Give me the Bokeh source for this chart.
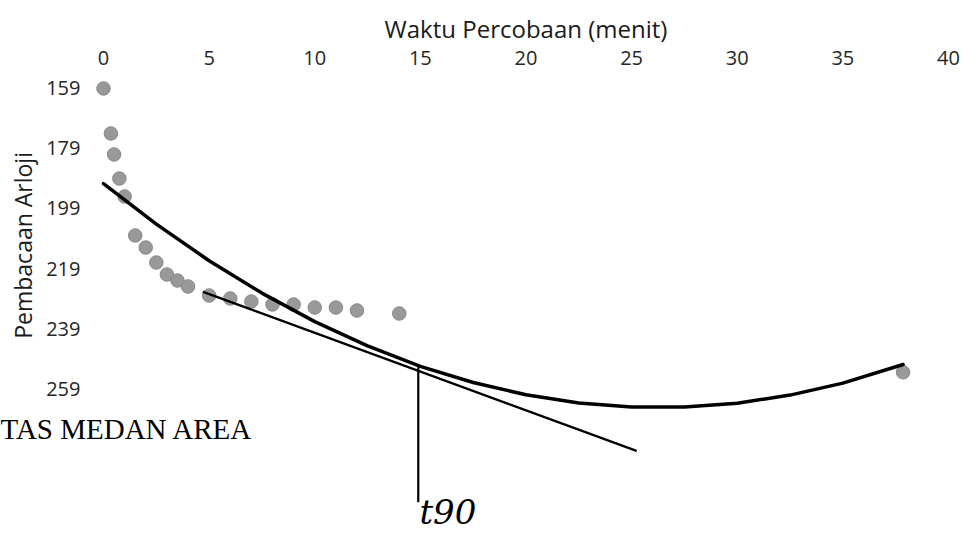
import math
from bokeh.plotting import figure
from bokeh.models import Range1d, FixedTicker, Label, LinearAxis
from bokeh.embed import file_html
from bokeh.resources import INLINE

# ---- data ----
time_min = [0, 0.35, 0.5, 0.75, 1, 1.5, 2, 2.5, 3, 3.5, 4, 5, 6, 7, 8, 9, 10, 11, 12, 14, 37.85]
reading = [159, 174, 181, 189, 195, 208, 212, 217, 221, 223, 225, 228, 229, 230, 231, 231, 232, 232, 233, 234, 253.6]

# hand-drawn smooth curve
curve_x = [0, 2.5, 5, 7.5, 10, 12.5, 15, 17.5, 20, 22.5, 25, 27.5, 30, 32.5, 35, 37.85]
curve_y = [190.7, 204.2, 216.4, 227.2, 236.7, 244.8, 251.6, 257.0, 261.1, 263.8, 265.2, 265.2, 263.9, 261.2, 257.2, 251.0]

# tangent line and t90 drop line
tangent_x = [4.75, 25.2]
tangent_y = [226.9, 279.7]
t90_x = [14.9, 14.9]
t90_y = [251.9, 296.9]

x_ticks = [0, 5, 10, 15, 20, 25, 30, 35, 40]
y_ticks = [159, 179, 199, 219, 239, 259]

FONT = "Open Sans"

# the frame spans the whole canvas; the axes sit at fixed data locations
p = figure(width=960, height=536, x_axis_location=None, y_axis_location=None,
           output_backend="svg", toolbar_location=None,
           x_range=Range1d(-4.876, 40.568), y_range=Range1d(308.333, 129.667),
           min_border=0)
p.outline_line_color = None
p.background_fill_color = "white"
p.border_fill_color = "white"
p.xgrid.visible = False
p.ygrid.visible = False

xa = LinearAxis(fixed_location=153.667, bounds=(0, 40))
xa.ticker = FixedTicker(ticks=x_ticks)
xa.axis_label = "Waktu Percobaan (menit)"
xa.axis_label_text_font = FONT
xa.axis_label_text_font_size = "24px"
xa.axis_label_text_font_style = "normal"
xa.axis_label_text_color = "#1a1a1a"
xa.axis_label_standoff = 3
xa.major_label_text_font = FONT
xa.major_label_text_font_size = "20px"
xa.major_label_text_color = "#262626"
xa.major_label_standoff = 2
xa.axis_line_color = None
xa.major_tick_line_color = None
xa.minor_tick_line_color = None
p.add_layout(xa, "above")

ya = LinearAxis(fixed_location=0, bounds=(159, 259))
ya.ticker = FixedTicker(ticks=y_ticks)
ya.major_label_text_font = FONT
ya.major_label_text_font_size = "20px"
ya.major_label_text_color = "#262626"
ya.major_label_standoff = 17
ya.axis_line_color = None
ya.major_tick_line_color = None
ya.minor_tick_line_color = None
p.add_layout(ya, "left")

# data points
p.scatter(time_min, reading, size=13.5, fill_color="#999999", line_color="#878787", line_width=1)

# curve, tangent, vertical drop
p.line(curve_x, curve_y, line_color="black", line_width=3.5, line_join="round", line_cap="round")
p.line(tangent_x, tangent_y, line_color="black", line_width=2.4, line_cap="round")
p.line(t90_x, t90_y, line_color="black", line_width=2.2)

# y axis title
p.add_layout(Label(x=-3.834, y=211.3, text="Pembacaan Arloji", angle=math.pi / 2,
                   text_align="center", text_baseline="middle",
                   text_font=FONT, text_font_size="23px", text_color="#1a1a1a"))

# handwritten note
p.add_layout(Label(x=16.3, y=300.0, text="t90", text_align="center", text_baseline="middle",
                   text_font="DejaVu Serif", text_font_style="italic",
                   text_font_size="34px", text_color="black"))

# watermark fragment from the scanned page
p.add_layout(Label(x=-4.876, y=272.5, text="TAS MEDAN AREA", text_align="left",
                   text_baseline="middle", text_font="Liberation Serif",
                   text_font_size="29px", text_color="black"))

open("out.html", "w").write(file_html(p, INLINE))
